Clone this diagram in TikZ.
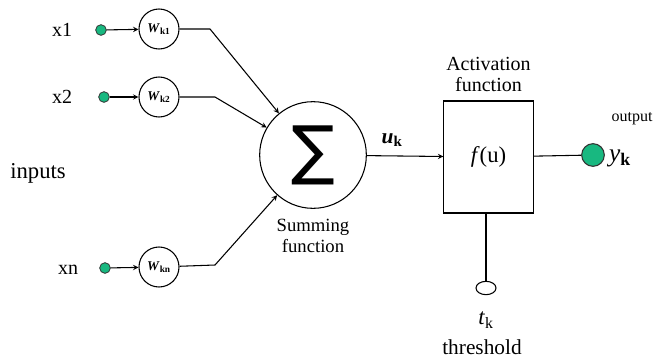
\documentclass[tikz,border=0pt]{standalone}
\usepackage{fontspec}
\setmainfont{Liberation Serif}
\newfontfamily\symfont{DejaVu Sans}
\usepackage{graphicx}
\usetikzlibrary{arrows,shapes.geometric}

\definecolor{dotgreen}{RGB}{24,184,128}

\tikzset{
  lbl/.style={inner sep=0pt, font=\fontsize{15}{17}\selectfont},
  indot/.style={circle, draw=black!80, fill=dotgreen, inner sep=0pt, minimum size=8pt, line width=0.6pt},
  outdot/.style={circle, draw=black!80, fill=dotgreen, inner sep=0pt, minimum size=17pt, line width=0.8pt},
  wcirc/.style={circle, draw, inner sep=0pt, minimum size=30pt, font=\fontsize{10}{11}\selectfont\bfseries},
  sumcirc/.style={circle, draw, inner sep=0pt, minimum size=80pt},
  actbox/.style={draw, inner sep=0pt, minimum width=67pt, minimum height=84pt},
  thrnode/.style={ellipse, draw, inner sep=0pt, minimum width=15pt, minimum height=10pt},
  note/.style={inner sep=0pt, align=center, font=\fontsize{15}{16}\selectfont}
}

\begin{document}
\begin{tikzpicture}[>=stealth, x=0.75pt, y=-0.75pt, line width=0.8pt]
  \useasboundingbox (0,0) rectangle (659,361);

  % inputs and weights
  \node[lbl] (lx1) at (62,30) {x1};
  \node[lbl] (lx2) at (62,97) {x2};
  \node[lbl] (lxn) at (68,270) {xn};
  \node[lbl, font=\fontsize{17}{19}\selectfont] (linputs) at (38,173) {inputs};

  \node[indot] (in1) at (101,30) {};
  \node[indot] (in2) at (104,97) {};
  \node[indot] (inn) at (105,268) {};

  \node[wcirc] (w1) at (159,29) {\textit{W}\textsubscript{k1}};
  \node[wcirc] (w2) at (159,97) {\textit{W}\textsubscript{k2}};
  \node[wcirc] (wn) at (159,267) {\textit{W}\textsubscript{kn}};

  \coordinate (b1) at (210,29);
  \coordinate (b2) at (215,97);
  \coordinate (bn) at (215,265);

  % summing junction and activation
  \node[sumcirc] (sum) at (313,155) {\resizebox{!}{35pt}{\symfont ∑}};
  \node[note, below=7pt, font=\fontsize{14}{16}\selectfont] (sumlbl) at (sum.south) {Summing\\function};

  \node[actbox] (act) at (488.5,157) {\fontsize{17}{19}\selectfont\textit{f}(u)};
  \node[note, above=6pt] (actlbl) at (act.north) {Activation\\function};

  \node[outdot] (out) at (593,155) {};
  \node[inner sep=0pt, font=\fontsize{19}{21}\selectfont] (yk) at (620,158) {\textit{y}\textsubscript{\textbf{k}}};
  \node[inner sep=0pt, font=\fontsize{12}{14}\selectfont] (outlbl) at (632,119) {output};

  \node[thrnode] (thr) at (486,288) {};
  \node[inner sep=0pt, font=\fontsize{17}{19}\selectfont] (tk) at (486,320) {\textit{t}\textsubscript{k}};
  \node[note, font=\fontsize{16}{18}\selectfont] (thrlbl) at (482,347) {threshold};

  % connections
  \draw[->] (in1) -- (w1);
  \draw[->] (in2) -- (w2);
  \draw[->] (inn) -- (wn);
  \draw[->] (w1) -- (b1) -- (sum);
  \draw[->] (w2) -- (b2) -- (sum);
  \draw[->] (wn) -- (bn) -- (sum);
  \draw[->] (sum) -- (act) node[pos=0.33, above=3pt, font=\fontsize{16}{18}\selectfont] {\textbf{\textit{u}}\textsubscript{\textbf{k}}};
  \draw (act) -- (out);
  \draw (act.south -| thr) -- (thr);
\end{tikzpicture}
\end{document}
